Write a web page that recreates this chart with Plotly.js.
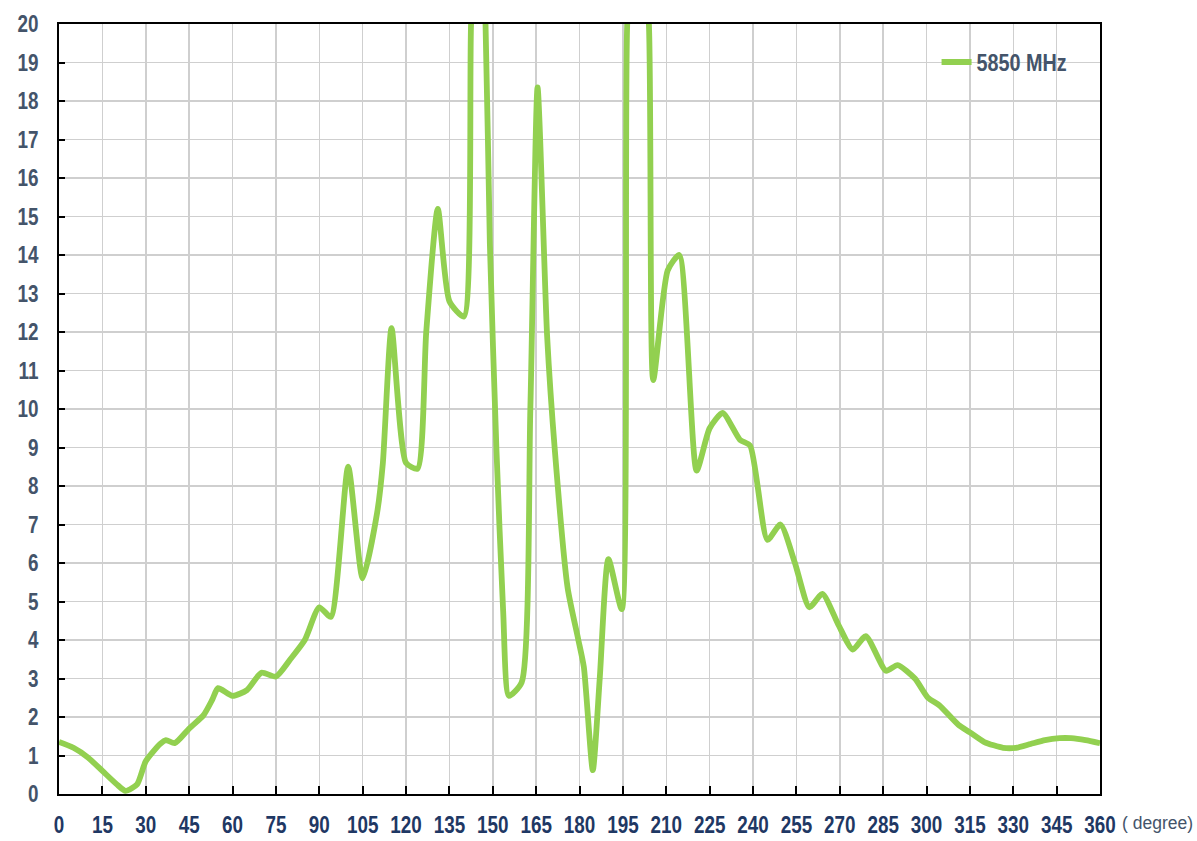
<!DOCTYPE html>
<html>
<head>
<meta charset="utf-8">
<script src="https://cdn.plot.ly/plotly-3.0.1.min.js"></script>
<style>html,body{margin:0;padding:0;background:#fff;}#chart{width:1197px;height:841px;}</style>
</head>
<body>
<div id="chart"></div>
<script>
const seriesName = "5850 MHz";
const angles = [0,5,10,15,20,23,27,30,35,37,40,45,50,53,55,60,65,70,75,80,85,90,94,100,105,110,112,115,120,124,127,131,135,140,142.5,145,147.5,149,151.3,153.6,155.6,160,163,165.5,168.8,171.5,175.9,179.5,181.5,184.6,187,190,194.6,196.5,200,204,205.5,210.5,214.5,220.5,225,229.5,235.5,239,245,249.5,254.5,259.5,264,269.5,274.5,279,286,290,296,300.5,304.5,311,315,320,326.5,331,336,341,346,350,355,360];
const gain = [1.35,1.2,0.95,0.6,0.25,0.08,0.25,0.85,1.3,1.4,1.32,1.7,2.05,2.45,2.75,2.55,2.7,3.15,3.05,3.5,4.0,4.85,4.6,8.5,5.6,7.3,8.6,12.1,8.6,8.45,12.0,15.2,12.8,12.4,20.0,24.0,20.0,14.3,8.9,4.75,2.55,2.9,10.0,18.35,11.9,8.9,5.35,4.04,3.3,0.62,3.0,6.1,4.8,20.0,24.0,20.0,10.75,13.6,14.0,8.4,9.5,9.9,9.2,9.05,6.6,7.0,6.0,4.85,5.2,4.4,3.75,4.1,3.2,3.35,3.0,2.5,2.3,1.8,1.6,1.35,1.2,1.2,1.3,1.4,1.45,1.45,1.4,1.32];
const xTicks = [0,15,30,45,60,75,90,105,120,135,150,165,180,195,210,225,240,255,270,285,300,315,330,345,360];
const yTicks = [0,1,2,3,4,5,6,7,8,9,10,11,12,13,14,15,16,17,18,19,20];

const fontFam = '"Liberation Sans", Arial, sans-serif';

const trace = {
  x: angles, y: gain, type: 'scatter', mode: 'lines', name: seriesName,
  line: {color: '#92d050', width: 5.8, shape: 'spline', smoothing: 0.6},
  cliponaxis: true
};

const layout = {
  width: 1197, height: 841,
  margin: {l: 59, r: 97, t: 24, b: 47},
  paper_bgcolor: '#ffffff', plot_bgcolor: '#ffffff',
  showlegend: true,
  legend: {x: 0.843, y: 0.9506, xanchor: 'left', yanchor: 'middle', bgcolor: 'rgba(0,0,0,0)',
    font: {family: fontFam, size: 23, color: '#44546a', weight: 'bold'}, itemwidth: 30},
  xaxis: {
    range: [0, 360], tickvals: xTicks, ticktext: xTicks.map(String),
    showgrid: true, gridcolor: '#cfcfcf', gridwidth: 1.5,
    showline: true, linecolor: '#000', linewidth: 2, mirror: true,
    ticks: 'inside', ticklen: 8, tickwidth: 2, tickcolor: '#000',
    tickfont: {family: fontFam, size: 23, color: '#1f3864', weight: 'bold'},
    ticklabelstandoff: 9, zeroline: false, fixedrange: true
  },
  yaxis: {
    range: [0, 20], tickvals: yTicks, ticktext: yTicks.map(String),
    showgrid: true, gridcolor: '#cfcfcf', gridwidth: 1.5,
    showline: true, linecolor: '#000', linewidth: 2, mirror: true,
    ticks: 'inside', ticklen: 6, tickwidth: 2, tickcolor: '#000',
    tickfont: {family: fontFam, size: 23, color: '#44546a', weight: 'bold'},
    ticklabelstandoff: 14, zeroline: false, fixedrange: true
  },
  shapes: [{type: 'rect', xref: 'paper', yref: 'paper', x0: 0.821, x1: 0.994, y0: 0.915, y1: 0.976,
    fillcolor: '#ffffff', line: {width: 0}, layer: 'between'}],
  annotations: [{text: '( degree)', xref: 'paper', yref: 'paper', x: 1.0548, y: -0.0377,
    xanchor: 'center', yanchor: 'middle', showarrow: false, borderpad: 0,
    font: {family: fontFam, size: 17.5, color: '#44546a'}}]
};

function narrow(selector, factor) {
  document.querySelectorAll(selector).forEach(function (t) {
    const len = t.getComputedTextLength();
    if (len > 0) {
      t.setAttribute('textLength', (len * factor).toFixed(2));
      t.setAttribute('lengthAdjust', 'spacingAndGlyphs');
    }
  });
}

Plotly.newPlot('chart', [trace], layout, {displayModeBar: false, staticPlot: true}).then(function () {
  narrow('.xtick text', 0.82);
  narrow('.ytick text', 0.82);
  narrow('.legendtext', 0.86);
});
</script>
</body>
</html>
